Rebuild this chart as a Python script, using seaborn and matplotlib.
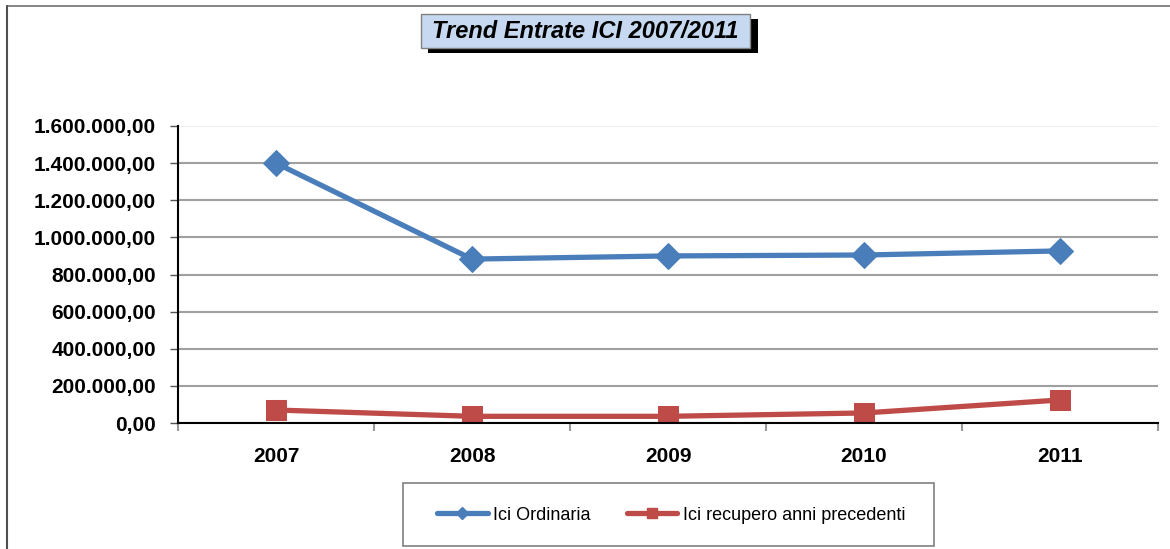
import matplotlib
matplotlib.use('Agg')
import matplotlib.pyplot as plt
import seaborn as sns
import pandas as pd
from matplotlib.patches import Rectangle
from matplotlib.lines import Line2D
from matplotlib.ticker import FuncFormatter, FixedLocator

# Dati
anni = ['2007', '2008', '2009', '2010', '2011']
ici_ordinaria = [1400000, 883000, 900000, 905000, 927000]
ici_recupero = [70000, 36000, 36000, 54000, 124000]
serie = ['Ici Ordinaria', 'Ici recupero anni precedenti']
colori = ['#4A7EBB', '#BE4B48']
marker = ['D', 's']

sns.set_style('white')
plt.rcParams['font.family'] = ['Liberation Sans', 'DejaVu Sans']
plt.rcParams['text.color'] = 'black'
plt.rcParams['xtick.labelcolor'] = 'black'
plt.rcParams['ytick.labelcolor'] = 'black'

W, H = 1170, 549
fig = plt.figure(figsize=(W / 100, H / 100), dpi=100)

def fx(px):
    return px / W

def fy(py):
    return 1 - py / H

ax = fig.add_axes([fx(178), fy(423), fx(1158) - fx(178), fy(126) - fy(423)])

df = pd.DataFrame({'anno': anni, 'Ici Ordinaria': ici_ordinaria,
                   'Ici recupero anni precedenti': ici_recupero})
df['pos'] = range(len(anni))

for nome, col, mk in zip(serie, colori, marker):
    sns.lineplot(x='pos', y=nome, data=df, ax=ax, color=col, linewidth=3.8,
                 marker=mk, markersize=13 if mk == 'D' else 15,
                 markeredgecolor=col, markerfacecolor=col)

ax.set_xlim(-0.5, len(anni) - 0.5)
ax.set_ylim(0, 1600000)
ax.set_yticks(range(0, 1600001, 200000))

def fmt_it(v, pos):
    s = f'{v:,.2f}'
    return s.replace(',', 'X').replace('.', ',').replace('X', '.')

ax.yaxis.set_major_formatter(FuncFormatter(fmt_it))
ax.set_xticks(range(len(anni)))
ax.set_xticklabels(anni)
ax.xaxis.set_minor_locator(FixedLocator([i - 0.5 for i in range(len(anni) + 1)]))
ax.tick_params(axis='x', which='major', length=0, pad=17, labelsize=15, labelcolor='black')
ax.tick_params(axis='x', which='minor', length=6, width=1.5, color='#999999', direction='out', bottom=True)
ax.tick_params(axis='y', length=6, width=1, color='#555555', direction='out', left=True, pad=10,
               labelsize=15, labelcolor='black')
for lab in ax.get_xticklabels() + ax.get_yticklabels():
    lab.set_fontweight('bold')

ax.set_xlabel('')
ax.set_ylabel('')
ax.grid(axis='y', color='#a0a0a0', linewidth=1.5)
ax.grid(axis='x', visible=False)
ax.get_ygridlines()[-1].set_color('#eeeeee')
ax.set_axisbelow(True)
for s in ['top', 'right']:
    ax.spines[s].set_visible(False)
for s in ['left', 'bottom']:
    ax.spines[s].set_color('black')
    ax.spines[s].set_linewidth(1.5)
if ax.get_legend():
    ax.get_legend().remove()

# Legenda (riquadro disegnato a parte)
fig.patches.append(Rectangle((fx(403), fy(546)), fx(934) - fx(403), fy(483) - fy(546),
                             transform=fig.transFigure, facecolor='white', edgecolor='#808080',
                             linewidth=1.2, zorder=1))
handles = [Line2D([], [], color=c, linewidth=3.8, marker=m, markersize=6 if m == 'D' else 7)
           for c, m in zip(colori, marker)]
fig.legend(handles, serie, loc='center', bbox_to_anchor=(fx(671), fy(515)),
           ncol=2, fontsize=13, frameon=False, handlelength=2.8, labelcolor='black',
           handletextpad=0.3, columnspacing=2.0, borderpad=0, borderaxespad=0)

# Titolo con ombra
fig.patches.append(Rectangle((fx(428), fy(53)), fx(758) - fx(428), fy(19) - fy(53),
                             transform=fig.transFigure, facecolor='black', edgecolor='none', zorder=1))
fig.patches.append(Rectangle((fx(421), fy(48)), fx(750) - fx(421), fy(14) - fy(48),
                             transform=fig.transFigure, facecolor='#C6D9F1', edgecolor='#808080',
                             linewidth=1, zorder=2))
fig.text(fx(585), fy(32), 'Trend Entrate ICI 2007/2011', ha='center', va='center', color='black',
         fontsize=17, fontweight='bold', fontstyle='italic', zorder=3)

# Bordo dell'area del grafico
fig.add_artist(Line2D([fx(7), fx(1170)], [fy(6), fy(6)], transform=fig.transFigure,
                      color='#707070', linewidth=1.2))
fig.add_artist(Line2D([fx(7), fx(7)], [fy(6), fy(549)], transform=fig.transFigure,
                      color='#505050', linewidth=1.5))

fig.savefig('out.png', dpi=100)
